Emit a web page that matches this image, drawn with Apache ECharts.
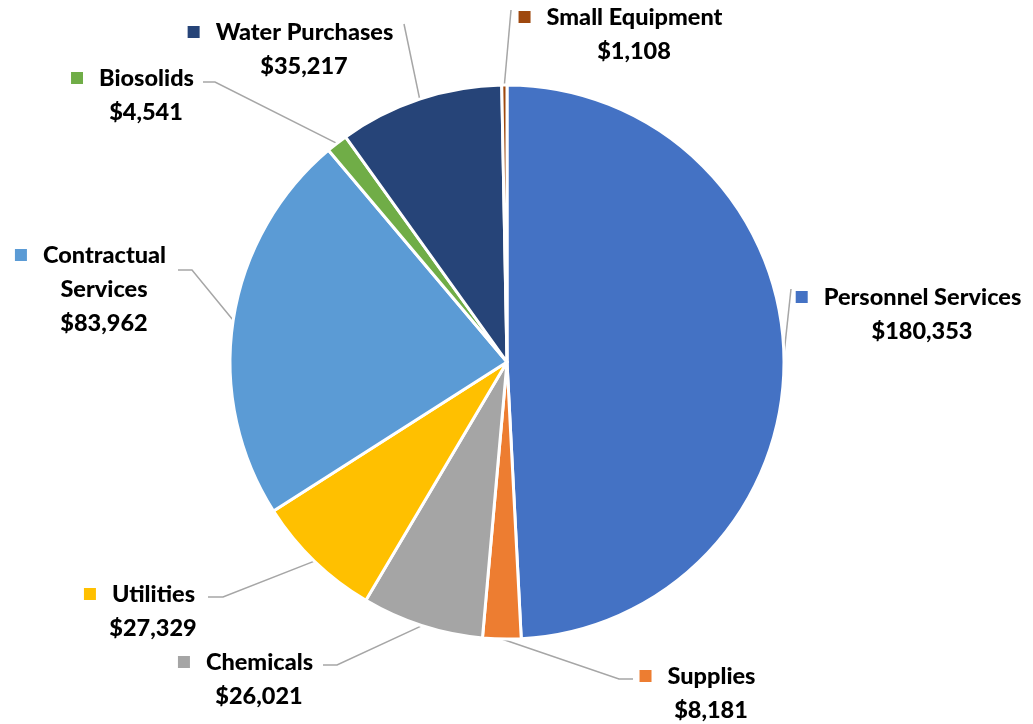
<!DOCTYPE html>
<html>
<head>
<meta charset="utf-8">
<script src="https://cdn.jsdelivr.net/npm/echarts@6/dist/echarts.min.js"></script>
<style>
html, body { margin: 0; padding: 0; background: #fff; }
#chart { width: 1033px; height: 724px; }
</style>
</head>
<body>
<div id="chart"></div>
<script>
// 数据
var categories = ['Personnel Services', 'Supplies', 'Chemicals', 'Utilities', 'Contractual Services', 'Biosolids', 'Water Purchases', 'Small Equipment'];
var amounts = [180353, 8181, 26021, 27329, 83962, 4541, 35217, 1108];
var sliceColors = ['#4472C4', '#ED7D31', '#A5A5A5', '#FFC000', '#5B9BD5', '#70AD47', '#264478', '#9E480E'];

// label placement: text centre x, first line centre y
var labelPos = [[922, 297], [711, 676], [259, 662], [153, 594], [104, 255], [146, 78], [304, 32], [634, 17]];
// leader line bend / end near each label
var leaderEnds = [
	[[791, 289], [791, 289]],
	[[619, 679], [633, 679]],
	[[337, 665], [323, 665]],
	[[223, 597], [208, 597]],
	[[192, 270], [178, 270]],
	[[215, 82], [203, 82]],
	[[404, 24], [404, 24]],
	[[511, 10], [511, 10]]
];

var chart = echarts.init(document.getElementById('chart'));

var rich = {
	g : { width : 16, align : 'center' },
	p : { width : 27, align : 'center' },
	n : {
		fontFamily : 'Lato',
		fontWeight : 900,
		fontSize : 23.5,
		color : '#000',
		lineHeight : 34,
		align : 'center'
	}
};
for (var i = 0; i < sliceColors.length; i++) {
	rich['s' + i] = { width : 12, height : 12, backgroundColor : sliceColors[i], align : 'center' };
}

var pieData = [];
for (var i = 0; i < categories.length; i++) {
	pieData.push({ name : categories[i], value : amounts[i] });
}

var option = {
	color : sliceColors,
	animation : false,
	series : [ {
		type : 'pie',
		center : [ 507, 362 ],
		radius : 277,
		startAngle : 90,
		clockwise : true,
		avoidLabelOverlap : false,
		itemStyle : {
			borderColor : '#fff',
			borderWidth : 3
		},
		label : {
			show : true,
			position : 'outside',
			fontFamily : 'Lato',
			fontWeight : 900,
			fontSize : 23.5,
			color : '#000',
			lineHeight : 34,
			rich : rich,
			formatter : function(p) {
				var words = p.name === 'Contractual Services' ? [ 'Contractual', 'Services' ] : [ p.name ];
				var lines = [ '{s' + p.dataIndex + '|}{g|}{n|' + words[0] + '}{p|}' ];
				for (var k = 1; k < words.length; k++) {
					lines.push('{n|' + words[k] + '}');
				}
				lines.push('{n|$' + p.value.toLocaleString('en-US') + '}');
				return lines.join('\n');
			}
		},
		labelLine : {
			show : true,
			lineStyle : { color : '#A6A6A6', width : 1.5 }
		},
		labelLayout : function(p) {
			var i = p.dataIndex;
			var pts = p.labelLinePoints;
			var res = {
				x : labelPos[i][0],
				y : labelPos[i][1] - 17,
				align : 'center',
				verticalAlign : 'top'
			};
			if (pts && pts.length) {
				res.labelLinePoints = [ pts[0], leaderEnds[i][0], leaderEnds[i][1] ];
			}
			return res;
		},
		data : pieData
	} ]
};
chart.setOption(option);
</script>
</body>
</html>
